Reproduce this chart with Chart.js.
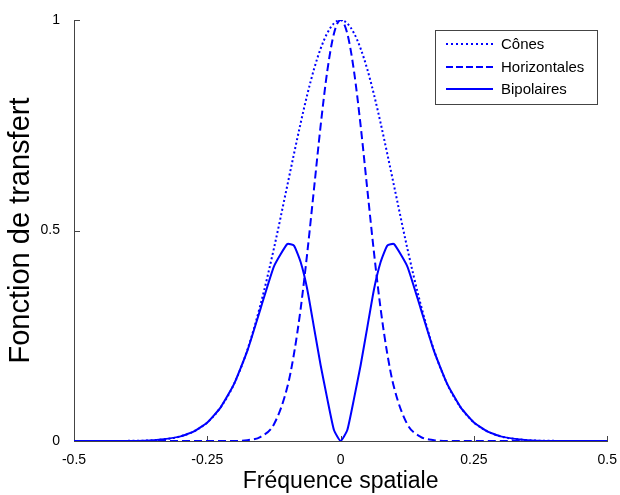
<!DOCTYPE html>
<html>
<head>
<meta charset="utf-8">
<script src="https://cdn.jsdelivr.net/npm/chart.js@4.4.1/dist/chart.umd.min.js"></script>
<style>
  html, body { margin: 0; padding: 0; background: #fff; }
  #wrap { width: 620px; height: 495px; }
</style>
</head>
<body>
<div id="wrap"><canvas id="chart" width="620" height="495"></canvas></div>
<script>
// spatial frequency samples
const freq = [-0.5, -0.45, -0.4, -0.35, -0.3, -0.275, -0.25, -0.225, -0.2, -0.175, -0.15, -0.125, -0.1, -0.0875, -0.075, -0.0625, -0.05, -0.0375, -0.025, -0.0125,
  0, 0.0125, 0.025, 0.0375, 0.05, 0.0625, 0.075, 0.0875, 0.1, 0.125, 0.15, 0.175, 0.2, 0.225, 0.25, 0.275, 0.3, 0.35, 0.4, 0.45, 0.5];

const cones = [0, 0, 0.0003, 0.002, 0.011, 0.023, 0.044, 0.080, 0.135, 0.216, 0.325, 0.458, 0.607, 0.682, 0.755, 0.823, 0.883, 0.932, 0.969, 0.992,
  1, 0.992, 0.969, 0.932, 0.883, 0.823, 0.755, 0.682, 0.607, 0.458, 0.325, 0.216, 0.135, 0.080, 0.044, 0.023, 0.011, 0.002, 0.0003, 0, 0];

const horizontales = [0, 0, 0, 0, 0, 0, 0, 0, 0, 0.002, 0.010, 0.040, 0.128, 0.207, 0.314, 0.448, 0.598, 0.749, 0.879, 0.968,
  1, 0.968, 0.879, 0.749, 0.598, 0.448, 0.314, 0.207, 0.128, 0.040, 0.010, 0.002, 0, 0, 0, 0, 0, 0, 0, 0, 0];

const bipolaires = [0, 0, 0, 0.002, 0.011, 0.023, 0.044, 0.080, 0.135, 0.214, 0.315, 0.415, 0.468, 0.464, 0.425, 0.360, 0.270, 0.180, 0.100, 0.026,
  0, 0.026, 0.100, 0.180, 0.270, 0.360, 0.425, 0.464, 0.468, 0.415, 0.315, 0.214, 0.135, 0.080, 0.044, 0.023, 0.011, 0.002, 0, 0, 0];

const seriesNames = ['Cônes', 'Horizontales', 'Bipolaires'];
const xTicks = [-0.5, -0.25, 0, 0.25, 0.5];
const yTicks = [0, 0.5, 1];

const FONT = "'Liberation Sans', Arial, sans-serif";
const BLUE = '#0000ff';
const AXIS = '#444444';

function toPoints(values) {
  return freq.map((f, i) => ({ x: f, y: values[i] }));
}

// inward tick marks like the original plot
const innerTicks = {
  id: 'innerTicks',
  beforeDatasetsDraw(chart) {
    const ctx = chart.ctx;
    const xs = chart.scales.x, ys = chart.scales.y;
    const area = chart.chartArea;
    ctx.save();
    ctx.strokeStyle = AXIS;
    ctx.lineWidth = 1;
    ctx.beginPath();
    xTicks.forEach(v => {
      const px = Math.round(xs.getPixelForValue(v)) + 0.5;
      ctx.moveTo(px, area.bottom);
      ctx.lineTo(px, area.bottom - 5);
    });
    yTicks.forEach(v => {
      const py = Math.round(ys.getPixelForValue(v)) + 0.5;
      ctx.moveTo(area.left, py);
      ctx.lineTo(area.left + 6, py);
    });
    ctx.stroke();
    ctx.restore();
  }
};

// boxed legend with line samples
const boxLegend = {
  id: 'boxLegend',
  afterDraw(chart) {
    const ctx = chart.ctx;
    const left = 435, top = 30, w = 162, h = 74;
    ctx.save();
    ctx.fillStyle = '#fff';
    ctx.fillRect(left, top, w, h);
    ctx.strokeStyle = AXIS;
    ctx.lineWidth = 1;
    ctx.strokeRect(left + 0.5, top + 0.5, w, h);
    const rows = [44, 67, 89];
    chart.data.datasets.forEach((ds, i) => {
      ctx.strokeStyle = ds.borderColor;
      ctx.lineWidth = ds.borderWidth;
      ctx.setLineDash(ds.legendDash || []);
      ctx.beginPath();
      ctx.moveTo(446, rows[i]);
      ctx.lineTo(493, rows[i]);
      ctx.stroke();
      ctx.setLineDash([]);
      ctx.fillStyle = '#000';
      ctx.font = '15px ' + FONT;
      ctx.textBaseline = 'middle';
      ctx.textAlign = 'left';
      ctx.fillText(ds.label, 501, rows[i] + 1);
    });
    ctx.restore();
  }
};

const ctx = document.getElementById('chart').getContext('2d');
const chart = new Chart(ctx, {
  type: 'line',
  data: {
    datasets: [
      {
        label: seriesNames[0],
        data: toPoints(cones),
        borderColor: BLUE,
        borderWidth: 2,
        borderDash: [2, 2.5],
        legendDash: [2, 3],
        cubicInterpolationMode: 'monotone',
        pointRadius: 0,
        fill: false
      },
      {
        label: seriesNames[1],
        data: toPoints(horizontales),
        borderColor: BLUE,
        borderWidth: 2,
        borderDash: [8, 4],
        legendDash: [7, 3],
        cubicInterpolationMode: 'monotone',
        pointRadius: 0,
        fill: false
      },
      {
        label: seriesNames[2],
        data: toPoints(bipolaires),
        borderColor: BLUE,
        borderWidth: 2,
        tension: 0.15,
        pointRadius: 0,
        fill: false
      }
    ]
  },
  options: {
    responsive: false,
    animation: false,
    layout: { padding: { top: 20, right: 12, left: 0, bottom: 0 } },
    plugins: {
      legend: { display: false },
      tooltip: { enabled: false }
    },
    scales: {
      x: {
        type: 'linear',
        min: -0.5,
        max: 0.5,
        afterBuildTicks: s => { s.ticks = xTicks.map(v => ({ value: v })); },
        afterFit: s => { s.height = 54; },
        grid: { display: false },
        border: { display: true, color: AXIS, width: 1 },
        ticks: {
          color: '#000',
          font: { family: FONT, size: 14 },
          padding: 3,
          maxRotation: 0,
          callback: v => String(v)
        },
        title: {
          display: true,
          text: 'Fréquence spatiale',
          color: '#000',
          font: { family: FONT, size: 23 },
          padding: { top: 0, bottom: 0 }
        }
      },
      y: {
        min: 0,
        max: 1,
        afterBuildTicks: s => { s.ticks = yTicks.map(v => ({ value: v })); },
        afterFit: s => { s.width = 74; },
        grid: { display: false },
        border: { display: true, color: AXIS, width: 1 },
        ticks: {
          color: '#000',
          font: { family: FONT, size: 14 },
          padding: 6,
          callback: v => String(v)
        },
        title: {
          display: true,
          text: 'Fonction de transfert',
          color: '#000',
          font: { family: FONT, size: 29 },
          padding: { top: 4, bottom: 0 }
        }
      }
    }
  },
  plugins: [innerTicks, boxLegend]
});
</script>
</body>
</html>
